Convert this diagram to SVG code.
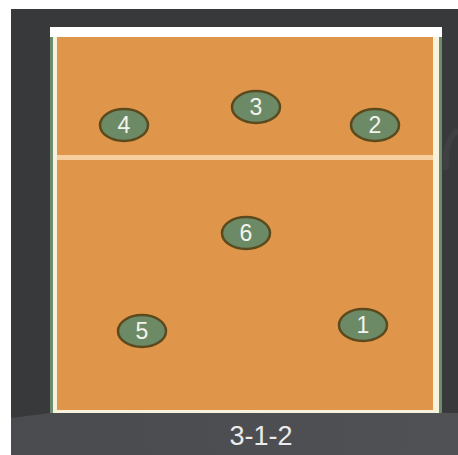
<svg xmlns="http://www.w3.org/2000/svg" width="458" height="455" viewBox="0 0 458 455">
<defs>
<style>
.pl ellipse{fill:#6d8a66;stroke:#5b4a1e;stroke-width:2.5}
.pl text{fill:#f4f4ee;font-family:"Liberation Sans",Arial,sans-serif;font-size:23px;text-anchor:middle}
</style>
<linearGradient id="fl" x1="0" y1="0" x2="1" y2="0">
<stop offset="0" stop-color="#4a4b4e"/>
<stop offset="1" stop-color="#505154"/>
</linearGradient>
</defs>
<rect width="458" height="455" fill="#ffffff"/>
<rect x="11" y="9" width="447" height="446" fill="#38393a"/>
<polygon points="11,418 50,413 458,413 458,455 11,455" fill="url(#fl)"/>
<path d="M458,130 Q444,140 446,170" fill="none" stroke="#454648" stroke-width="6" opacity="0.6"/>
<g id="court">
<rect x="50" y="36" width="392" height="377" fill="#f6f2dc"/>
<rect x="50" y="36" width="3" height="377" fill="#6f8a70"/>
<rect x="439" y="36" width="3" height="377" fill="#6f8a70"/>
<rect x="57" y="37" width="376" height="373" fill="#e0964a"/>
<rect x="50" y="27" width="392" height="10" fill="#ffffff"/>
<rect x="57" y="155" width="376" height="5" fill="#f6cf9e"/>
</g>
<g id="p4" class="pl"><ellipse cx="124" cy="125" rx="24" ry="16"/><text x="124" y="133">4</text></g>
<g id="p3" class="pl"><ellipse cx="256" cy="107" rx="24" ry="16"/><text x="256" y="115">3</text></g>
<g id="p2" class="pl"><ellipse cx="375" cy="125" rx="24" ry="16"/><text x="375" y="133">2</text></g>
<g id="p6" class="pl"><ellipse cx="246" cy="233" rx="24" ry="16"/><text x="246" y="241">6</text></g>
<g id="p5" class="pl"><ellipse cx="142" cy="331" rx="24" ry="16"/><text x="142" y="339">5</text></g>
<g id="p1" class="pl"><ellipse cx="363" cy="325" rx="24" ry="16"/><text x="363" y="333">1</text></g>
<g id="connectors"/>
<text x="261" y="445" fill="#ebebeb" font-family="'Liberation Sans',Arial,sans-serif" font-size="27" text-anchor="middle">3-1-2</text>
</svg>
